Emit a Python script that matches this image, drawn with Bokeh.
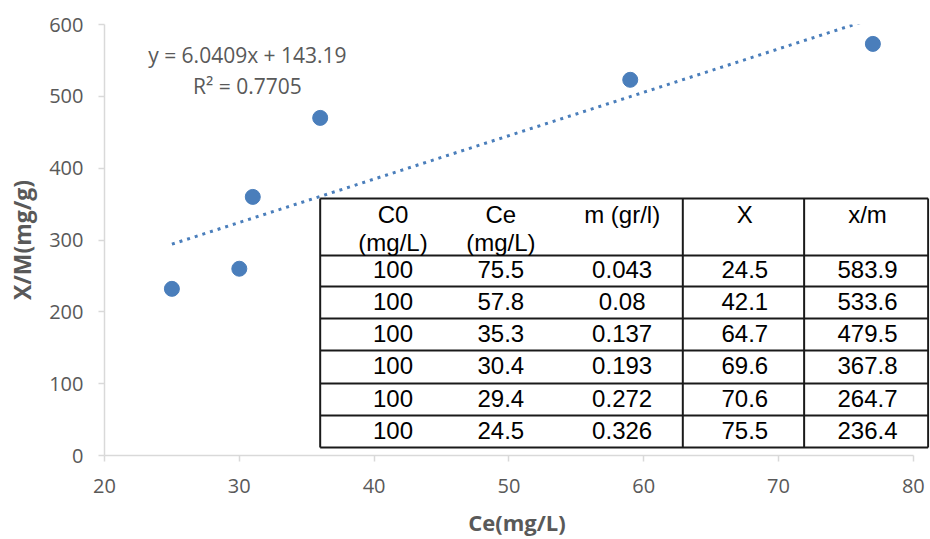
from bokeh.plotting import figure
from bokeh.models import Range1d, Label, FixedTicker
from bokeh.core.properties import value
from bokeh.embed import file_html
from bokeh.resources import INLINE

# ---- data ----
ce = [25, 30, 31, 36, 59, 77]
xm = [232, 260, 360, 470, 523, 573]
slope = 6.0409
intercept = 143.19
r2 = 0.7705

x_ticks = [20, 30, 40, 50, 60, 70, 80]
y_ticks = [0, 100, 200, 300, 400, 500, 600]

tbl_head1 = ["C0", "Ce", "m (gr/l)", "X", "x/m"]
tbl_head2 = ["(mg/L)", "(mg/L)", "", "", ""]
tbl_c0 = ["100", "100", "100", "100", "100", "100"]
tbl_ce = ["75.5", "57.8", "35.3", "30.4", "29.4", "24.5"]
tbl_m = ["0.043", "0.08", "0.137", "0.193", "0.272", "0.326"]
tbl_x = ["24.5", "42.1", "64.7", "69.6", "70.6", "75.5"]
tbl_xm = ["583.9", "533.6", "479.5", "367.8", "264.7", "236.4"]

# ---- styling / layout ----
BLUE = "#4A7EBB"
GREY_TXT = "#595959"
AXIS_GREY = "#D9D9D9"
TICK_FONT = "Open Sans"

p = figure(width=930, height=539, output_backend="svg", toolbar_location=None,
           x_range=Range1d(20, 81.2), y_range=Range1d(0, 600),
           min_border_left=104, min_border_right=1, min_border_top=24, min_border_bottom=84)
p.outline_line_color = None
p.xgrid.visible = False
p.ygrid.visible = False
p.background_fill_color = "white"

for ax, ticks in ((p.xaxis[0], x_ticks), (p.yaxis[0], y_ticks)):
    ax.ticker = FixedTicker(ticks=ticks)
    ax.minor_tick_line_color = None
    ax.axis_line_color = AXIS_GREY
    ax.axis_line_width = 1.5
    ax.major_tick_line_color = AXIS_GREY
    ax.major_tick_line_width = 1.5
    ax.major_tick_out = 6
    ax.major_tick_in = 0
    ax.major_label_text_font = TICK_FONT
    ax.major_label_text_font_size = "20px"
    ax.major_label_text_color = GREY_TXT
    ax.axis_label_text_font = TICK_FONT
    ax.axis_label_text_font_style = "bold"
    ax.axis_label_text_color = GREY_TXT

p.xaxis[0].bounds = (20, 80)
p.xaxis[0].axis_label = "Ce(mg/L)"
p.xaxis[0].axis_label_text_font_size = "22px"
p.xaxis[0].major_label_standoff = 17
p.xaxis[0].axis_label_standoff = 11
p.yaxis[0].axis_label = "X/M(mg/g)"
p.yaxis[0].axis_label_text_font_size = "23px"
p.yaxis[0].major_label_standoff = 15
p.yaxis[0].axis_label_standoff = 8

# trendline
tx = [min(ce), max(ce)]
ty = [slope * v + intercept for v in tx]
p.line(tx, ty, line_color=BLUE, line_width=3, line_dash="3 5")

# data points
p.scatter(ce, xm, size=15, fill_color=BLUE, line_color=BLUE)

# equation label
p.add_layout(Label(x=30.6, y=557, text=f"y = {slope}x + {intercept}", text_align="center",
                   text_baseline="middle", text_font=TICK_FONT, text_font_size="21px",
                   text_color=GREY_TXT))
p.add_layout(Label(x=30.6, y=515, text=f"R² = {r2}", text_align="center",
                   text_baseline="middle", text_font=TICK_FONT, text_font_size="21px",
                   text_color=GREY_TXT))

# ---- inset table ----
col_edges = [36.0, 53.9, 62.9, 71.9, 81.1]
col_centers = [41.4, 49.4, 58.4, 67.5, 76.6]
row_edges = [357.8, 278.4, 235.3, 190.7, 146.2, 100.2, 55.7, 11.1]
head_y = [335.5, 296.5]

p.quad(left=[col_edges[0]], right=[col_edges[-1]], top=[row_edges[0]], bottom=[row_edges[-1]],
       fill_color="white", line_color=None)

hx0 = [col_edges[0]] * len(row_edges)
hx1 = [col_edges[-1]] * len(row_edges)
p.segment(x0=hx0, y0=row_edges, x1=hx1, y1=row_edges, line_color="#1a1a1a", line_width=2)
vcols = [col_edges[0]] + col_edges[2:]
p.segment(x0=vcols, y0=[row_edges[0]] * len(vcols), x1=vcols, y1=[row_edges[-1]] * len(vcols),
          line_color="#1a1a1a", line_width=2)

TFONT = value("Liberation Sans")
TSIZE = "24px"
p.text(x=col_centers, y=[head_y[0]] * 5, text=tbl_head1, text_align="center", text_baseline="middle",
       text_font=TFONT, text_font_size=TSIZE, text_color="black")
p.text(x=col_centers, y=[head_y[1]] * 5, text=tbl_head2, text_align="center", text_baseline="middle",
       text_font=TFONT, text_font_size=TSIZE, text_color="black")

row_centers = [(row_edges[i + 1] + row_edges[i + 2]) / 2 + 2 for i in range(6)]
for ci, col in enumerate([tbl_c0, tbl_ce, tbl_m, tbl_x, tbl_xm]):
    p.text(x=[col_centers[ci]] * len(col), y=row_centers, text=col, text_align="center",
           text_baseline="middle", text_font=TFONT, text_font_size=TSIZE, text_color="black")

open("out.html", "w").write(file_html(p, INLINE))
